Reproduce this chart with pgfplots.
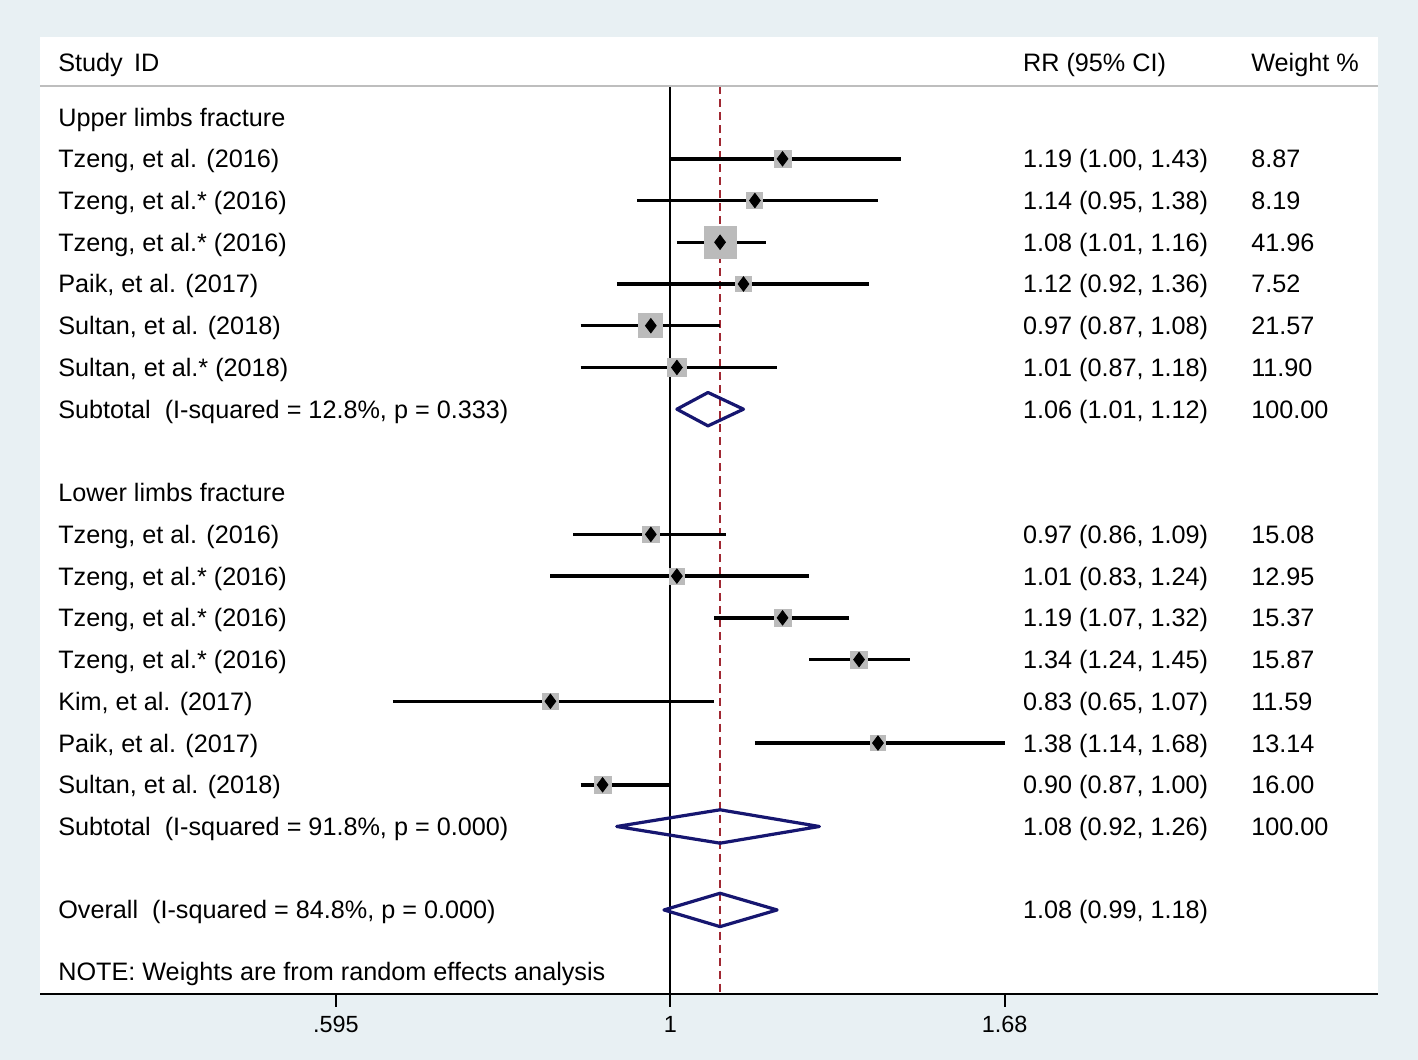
\documentclass[border=0pt]{standalone}
\usepackage{pgfplots}
\pgfplotsset{compat=1.18}
\usepackage{pgfplotstable}
\usepackage{fontspec}
\setmainfont{Liberation Sans}
\definecolor{bgc}{RGB}{232,240,243}
\definecolor{boxg}{RGB}{187,187,187}
\definecolor{navyd}{RGB}{22,22,112}
\definecolor{maroonr}{RGB}{160,40,50}
\definecolor{hdrg}{RGB}{190,190,190}

% study estimates: y = -row, rr, lower, upper, box half-side (pt)
\pgfplotstableread{
y rr lo hi s
-2 1.19 1.00 1.43 4.2
-3 1.14 0.95 1.38 4.0
-4 1.08 1.01 1.16 8.0
-5 1.12 0.92 1.36 3.8
-6 0.97 0.87 1.08 6.0
-7 1.01 0.87 1.18 4.7
-11 0.97 0.86 1.09 4.2
-12 1.01 0.83 1.24 3.9
-13 1.19 1.07 1.32 4.3
-14 1.34 1.24 1.45 4.3
-15 0.83 0.65 1.07 3.8
-16 1.38 1.14 1.68 3.9
-17 0.90 0.87 1.00 4.3
}\studies

% confidence intervals (segments separated by nan)
\pgfplotstableread{
x y
1.00 -2
1.43 -2
nan nan
0.95 -3
1.38 -3
nan nan
1.01 -4
1.16 -4
nan nan
0.92 -5
1.36 -5
nan nan
0.87 -6
1.08 -6
nan nan
0.87 -7
1.18 -7
nan nan
0.86 -11
1.09 -11
nan nan
0.83 -12
1.24 -12
nan nan
1.07 -13
1.32 -13
nan nan
1.24 -14
1.45 -14
nan nan
0.65 -15
1.07 -15
nan nan
1.14 -16
1.68 -16
nan nan
0.87 -17
1.00 -17
}\cis

\newcommand{\rowtext}[4]{%
  \node[anchor=base west, inner sep=0pt, yshift=-4.5pt] at (axis cs:0.3865,#1) {#2};%
  \node[anchor=base west, inner sep=0pt, yshift=-4.5pt] at (axis cs:1.7277,#1) {#3};%
  \node[anchor=base west, inner sep=0pt, yshift=-4.5pt] at (axis cs:2.4618,#1) {#4};%
}

\begin{document}
\begin{tikzpicture}[font=\fontsize{12.6}{15}\selectfont]
\fill[bgc] (-20pt,-33pt) rectangle (688.5pt,496.5pt);
\fill[white] (0pt,0pt) rectangle (668.5pt,478pt);
\begin{axis}[
  at={(0pt,0pt)}, anchor=south west,
  scale only axis, width=668.5pt, height=478pt,
  xmode=log, xmin=0.37587, xmax=2.9987,
  ymin=-22.007, ymax=0.9185,
  enlargelimits=false, clip=false,
  axis x line*=bottom, axis y line=none,
  x axis line style={-, line width=1pt, black},
  xtick={0.595,1,1.68}, xticklabels={.595,1,1.68},
  xminorticks=false,
  tick align=outside, major tick length=6.5pt,
  every tick/.style={black, line width=1pt},
  xticklabel style={font=\fontsize{11.7}{14}\selectfont, yshift=-1.4pt},
  unbounded coords=jump,
]
% reference lines
\addplot[black, line width=1pt] coordinates {(1,-0.257) (1,-22.007)};
\addplot[maroonr, line width=1pt, dash pattern=on 4pt off 2.5pt] coordinates {(1.08,-0.257) (1.08,-22.007)};
% header separator
\draw[hdrg, line width=1.2pt] (axis cs:0.37587,-0.257) -- (axis cs:2.9987,-0.257);
% weight boxes
\addplot[only marks, mark=square*, mark options={draw=boxg, fill=boxg},
  scatter,
  visualization depends on={\thisrow{s} \as \ms},
  scatter/@pre marker code/.code={\scope[mark size=\ms pt]},
  scatter/@post marker code/.code={\endscope}]
  table[x=rr, y=y] {\studies};
% CIs
\addplot[black, line width=1.75pt, mark=none] table[x=x, y=y] {\cis};
% point estimates
\addplot[only marks, mark=diamond*, mark size=3.6pt, black] table[x=rr, y=y] {\studies};
% pooled diamonds
\addplot[navyd, line width=1.6pt, line join=round] coordinates {(1.01,-8) (1.06,-7.6) (1.12,-8) (1.06,-8.4) (1.01,-8) (1.06,-7.6)};
\addplot[navyd, line width=1.6pt, line join=round] coordinates {(0.92,-18) (1.08,-17.6) (1.26,-18) (1.08,-18.4) (0.92,-18) (1.08,-17.6)};
\addplot[navyd, line width=1.6pt, line join=round] coordinates {(0.99,-20) (1.08,-19.6) (1.18,-20) (1.08,-20.4) (0.99,-20) (1.08,-19.6)};
% text
\rowtext{0.319}{Study\hspace{0.45em}ID}{RR (95\% CI)}{Weight \%}
\rowtext{-1}{Upper limbs fracture}{}{}
\rowtext{-2}{Tzeng, et al. (2016)}{1.19 (1.00, 1.43)}{8.87}
\rowtext{-3}{Tzeng, et al.* (2016)}{1.14 (0.95, 1.38)}{8.19}
\rowtext{-4}{Tzeng, et al.* (2016)}{1.08 (1.01, 1.16)}{41.96}
\rowtext{-5}{Paik, et al. (2017)}{1.12 (0.92, 1.36)}{7.52}
\rowtext{-6}{Sultan, et al. (2018)}{0.97 (0.87, 1.08)}{21.57}
\rowtext{-7}{Sultan, et al.* (2018)}{1.01 (0.87, 1.18)}{11.90}
\rowtext{-8}{Subtotal\ \ (I-squared = 12.8\%, p = 0.333)}{1.06 (1.01, 1.12)}{100.00}
\rowtext{-10}{Lower limbs fracture}{}{}
\rowtext{-11}{Tzeng, et al. (2016)}{0.97 (0.86, 1.09)}{15.08}
\rowtext{-12}{Tzeng, et al.* (2016)}{1.01 (0.83, 1.24)}{12.95}
\rowtext{-13}{Tzeng, et al.* (2016)}{1.19 (1.07, 1.32)}{15.37}
\rowtext{-14}{Tzeng, et al.* (2016)}{1.34 (1.24, 1.45)}{15.87}
\rowtext{-15}{Kim, et al. (2017)}{0.83 (0.65, 1.07)}{11.59}
\rowtext{-16}{Paik, et al. (2017)}{1.38 (1.14, 1.68)}{13.14}
\rowtext{-17}{Sultan, et al. (2018)}{0.90 (0.87, 1.00)}{16.00}
\rowtext{-18}{Subtotal\ \ (I-squared = 91.8\%, p = 0.000)}{1.08 (0.92, 1.26)}{100.00}
\rowtext{-20}{Overall\ \ (I-squared = 84.8\%, p = 0.000)}{1.08 (0.99, 1.18)}{}
\rowtext{-21.48}{NOTE: Weights are from random effects analysis}{}{}
\end{axis}
\end{tikzpicture}
\end{document}
